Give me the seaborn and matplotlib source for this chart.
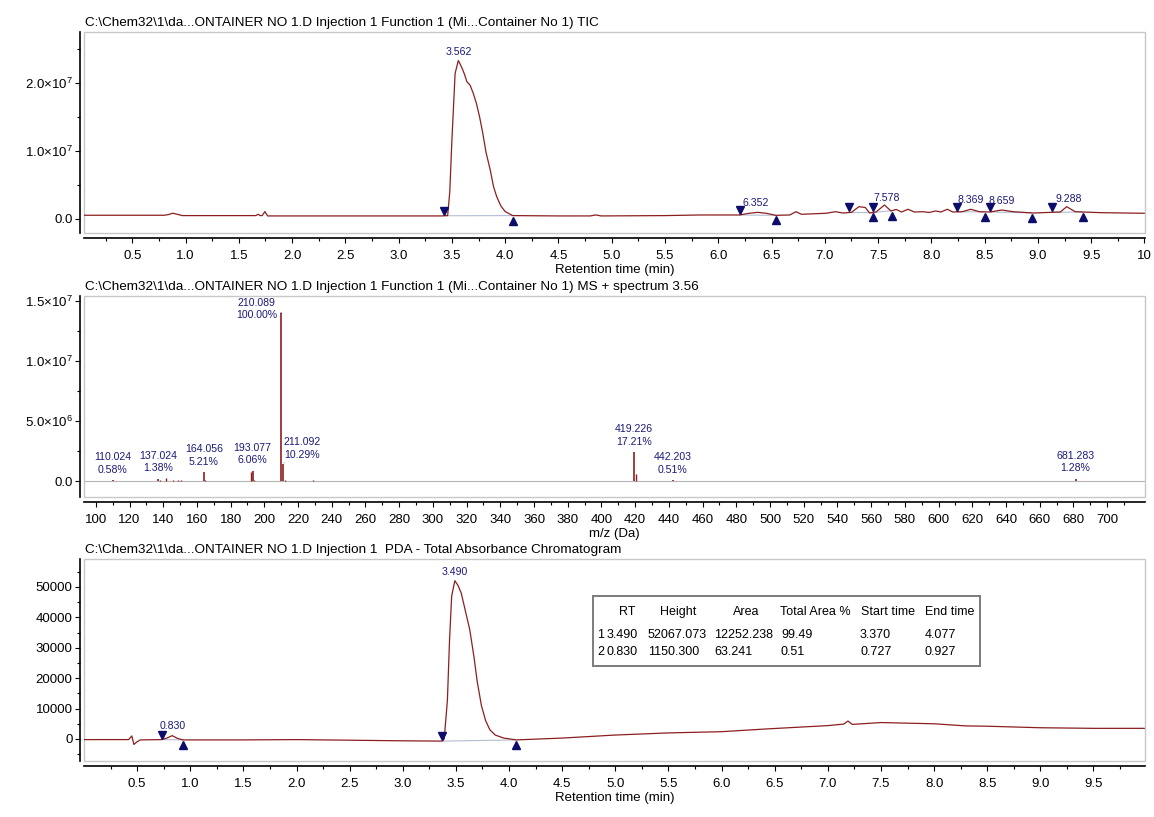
import numpy as np
import pandas as pd
import seaborn as sns
import matplotlib
matplotlib.use("Agg")
import matplotlib.pyplot as plt
from matplotlib.patches import Rectangle
from matplotlib.ticker import FixedLocator, FixedFormatter
import matplotlib.transforms as mtransforms

# ---------------- titles ----------------
tic_title = r"C:\Chem32\1\da...ONTAINER NO 1.D Injection 1 Function 1 (Mi...Container No 1) TIC"
ms_title = r"C:\Chem32\1\da...ONTAINER NO 1.D Injection 1 Function 1 (Mi...Container No 1) MS + spectrum 3.56"
pda_title = r"C:\Chem32\1\da...ONTAINER NO 1.D Injection 1  PDA - Total Absorbance Chromatogram"
rt_xlabel = "Retention time (min)"
mz_xlabel = "m/z (Da)"

# ---------------- TIC chromatogram ----------------
tic_time = [0.05, 0.80, 0.84, 0.88, 0.92, 0.97, 1.62, 1.66, 1.68, 1.70, 1.72, 1.745, 1.77,
            2.00, 2.50, 3.00, 3.40, 3.46, 3.48, 3.50, 3.53, 3.56, 3.58, 3.60, 3.62, 3.64,
            3.67, 3.70, 3.73, 3.76, 3.79, 3.82, 3.86, 3.89, 3.92, 3.96, 4.00, 4.07, 4.50,
            4.80, 4.85, 4.90, 5.50, 5.83, 6.20, 6.29, 6.37, 6.45, 6.54, 6.67, 6.73, 6.78,
            7.01, 7.10, 7.17, 7.25, 7.32, 7.38, 7.42, 7.48, 7.56, 7.62, 7.67, 7.72, 7.78,
            7.84, 7.92, 7.98, 8.04, 8.09, 8.15, 8.20, 8.29, 8.37, 8.45, 8.55, 8.66, 8.77,
            8.96, 9.21, 9.27, 9.35, 9.59, 10.0]
tic_int = [5.5e5, 5.5e5, 6.5e5, 8.5e5, 7.0e5, 5.0e5, 5.0e5, 5.0e5, 7.0e5, 5.0e5, 5.0e5, 1.1e6, 4.5e5,
           4.5e5, 4.5e5, 4.5e5, 4.5e5, 5.0e5, 4.0e6, 1.16e7, 2.14e7, 2.33e7, 2.27e7, 2.20e7, 2.12e7, 2.02e7,
           1.97e7, 1.85e7, 1.70e7, 1.50e7, 1.26e7, 9.8e6, 7.2e6, 4.8e6, 3.3e6, 1.9e6, 1.1e6, 5.0e5, 4.5e5,
           4.5e5, 6.0e5, 4.5e5, 5.0e5, 5.9e5, 5.9e5, 8.4e5, 9.8e5, 8.4e5, 5.4e5, 5.9e5, 1.07e6, 6.9e5,
           8.4e5, 1.07e6, 8.8e5, 9.8e5, 1.81e6, 1.69e6, 8.8e5, 1.03e6, 2.06e6, 1.18e6, 1.40e6, 1.03e6, 1.43e6,
           1.03e6, 1.07e6, 9.6e5, 1.18e6, 1.03e6, 1.43e6, 1.03e6, 1.07e6, 1.43e6, 1.07e6, 1.03e6, 1.32e6, 1.07e6,
           8.8e5, 1.03e6, 1.81e6, 1.07e6, 9.3e5, 8.4e5]
tic_peak_labels = [3.562, 6.352, 7.578, 8.369, 8.659, 9.288]
tic_peak_start = [3.43, 6.20, 7.23, 7.45, 8.24, 8.55, 9.13]
tic_peak_end = [4.07, 6.54, 7.45, 7.63, 8.50, 8.94, 9.42]
tic_yticks = [0, 1.0e7, 2.0e7]
tic_yticklabels = ["0.0", "1.0×10$^{7}$", "2.0×10$^{7}$"]
tic_yminor = [0.5e7, 1.5e7, 2.5e7]
rt_top_ticks = [0.5, 1.0, 1.5, 2.0, 2.5, 3.0, 3.5, 4.0, 4.5, 5.0, 5.5, 6.0, 6.5, 7.0, 7.5,
                8.0, 8.5, 9.0, 9.5, 10.0]
rt_top_labels = ["0.5", "1.0", "1.5", "2.0", "2.5", "3.0", "3.5", "4.0", "4.5", "5.0", "5.5",
                 "6.0", "6.5", "7.0", "7.5", "8.0", "8.5", "9.0", "9.5", "10"]
rt_top_minor = [0.25, 0.75, 1.25, 1.75, 2.25, 2.75, 3.25, 3.75, 4.25, 4.75, 5.25, 5.75, 6.25,
                6.75, 7.25, 7.75, 8.25, 8.75, 9.25, 9.75]

# ---------------- MS spectrum ----------------
ms_base_peak = 1.40e7
ms_peak_mz = [110.024, 137.024, 164.056, 193.077, 210.089, 211.092, 419.226, 442.203, 681.283]
ms_peak_pct = [0.58, 1.38, 5.21, 6.06, 100.00, 10.29, 17.21, 0.51, 1.28]
ms_minor_mz = [104.0, 118.1, 121.0, 128.1, 132.0, 138.0, 141.8, 146.0, 149.0, 150.8, 153.0,
               165.06, 175.0, 183.0, 191.9, 194.08, 212.1, 226.0, 229.0, 232.1, 420.23,
               443.2, 458.0, 471.0, 500.0, 653.0, 665.0, 699.0]
ms_minor_int = [3e4, 2e4, 3e4, 3e4, 4e4, 6e4, 2.4e5, 5e4, 1e5, 8e4, 4e4,
                8e4, 3e4, 3e4, 7.4e5, 1.2e5, 1.2e5, 4e4, 6e4, 3e4, 5.5e5,
                3e4, 2e4, 3e4, 1e4, 2e4, 2e4, 2e4]
ms_yticks = [0, 5.0e6, 1.0e7, 1.5e7]
ms_yticklabels = ["0.0", "5.0×10$^{6}$", "1.0×10$^{7}$", "1.5×10$^{7}$"]
ms_yminor = [2.5e6, 7.5e6, 1.25e7]
mz_ticks = [100, 120, 140, 160, 180, 200, 220, 240, 260, 280, 300, 320, 340, 360, 380, 400,
            420, 440, 460, 480, 500, 520, 540, 560, 580, 600, 620, 640, 660, 680, 700]
mz_labels = [str(v) for v in mz_ticks]
mz_minor = [110, 130, 150, 170, 190, 210, 230, 250, 270, 290, 310, 330, 350, 370, 390, 410,
            430, 450, 470, 490, 510, 530, 550, 570, 590, 610, 630, 650, 670, 690, 710]

# ---------------- PDA chromatogram ----------------
pda_time = [0.00, 0.42, 0.45, 0.47, 0.50, 0.53, 0.73, 0.78, 0.83, 0.88, 0.93, 1.50, 2.00, 2.50,
            3.00, 3.37, 3.39, 3.42, 3.44, 3.46, 3.49, 3.52, 3.55, 3.59, 3.63, 3.67, 3.70, 3.74,
            3.78, 3.82, 3.87, 3.95, 4.07, 4.50, 5.00, 5.50, 6.00, 6.42, 7.00, 7.15, 7.19, 7.23,
            7.50, 8.00, 8.30, 8.50, 9.00, 9.50, 9.98]
pda_abs = [-200, -200, 1000, -1800, -900, -300, -200, 300, 1100, 200, -300, -300, -200, -400,
           -600, -700, 0, 12800, 32500, 47000, 52067, 50500, 48000, 42000, 36000, 27000, 19000, 11000,
           6000, 3000, 1300, 300, -300, 300, 1300, 2000, 2400, 3300, 4400, 4900, 5900, 4800,
           5400, 5000, 4300, 4200, 3700, 3500, 3500]
pda_peak_labels = [0.830, 3.490]
pda_peak_start = [0.73, 3.37]
pda_peak_end = [0.93, 4.07]
pda_yticks = [0, 10000, 20000, 30000, 40000, 50000]
pda_yticklabels = ["0", "10000", "20000", "30000", "40000", "50000"]
pda_yminor = [-5000, 5000, 15000, 25000, 35000, 45000, 55000]
rt_bot_ticks = [0.5, 1.0, 1.5, 2.0, 2.5, 3.0, 3.5, 4.0, 4.5, 5.0, 5.5, 6.0, 6.5, 7.0, 7.5,
                8.0, 8.5, 9.0, 9.5]
rt_bot_labels = ["0.5", "1.0", "1.5", "2.0", "2.5", "3.0", "3.5", "4.0", "4.5", "5.0", "5.5",
                 "6.0", "6.5", "7.0", "7.5", "8.0", "8.5", "9.0", "9.5"]
rt_bot_minor = [0.25, 0.75, 1.25, 1.75, 2.25, 2.75, 3.25, 3.75, 4.25, 4.75, 5.25, 5.75, 6.25,
                6.75, 7.25, 7.75, 8.25, 8.75, 9.25, 9.75]

# peak table
tbl_header = ["RT", "Height", "Area", "Total Area %", "Start time", "End time"]
tbl_rt = [3.490, 0.830]
tbl_height = [52067.073, 1150.300]
tbl_area = [12252.238, 63.241]
tbl_pct = [99.49, 0.51]
tbl_start = [3.370, 0.727]
tbl_end = [4.077, 0.927]

# ---------------- style ----------------
sns.set_theme(style="ticks")
plt.rcParams["font.family"] = ["Liberation Sans", "DejaVu Sans"]
plt.rcParams["mathtext.default"] = "regular"

TRACE = "#8b1f1f"
NAVY = "#1a1a78"
MARK = "#0c0c6a"
BOX = "#c8c8c8"
BASEL = "#b4bcd4"

fig = plt.figure(figsize=(11.54, 8.17), dpi=100)
W, H = 1154, 817


def rect(top_px, bot_px, left_px=84, right_px=1145):
    return [left_px / W, (H - bot_px) / H, (right_px - left_px) / W, (bot_px - top_px) / H]


ax1 = fig.add_axes(rect(32, 233))
ax2 = fig.add_axes(rect(296, 497))
ax3 = fig.add_axes(rect(559, 761))


def style_axis(ax, title, xlabel):
    for s in ["top", "right"]:
        ax.spines[s].set_visible(False)
    ax.spines["left"].set_position(("outward", 3.0))
    ax.spines["bottom"].set_position(("outward", 3.6))
    for s in ["left", "bottom"]:
        ax.spines[s].set_linewidth(1.2)
        ax.spines[s].set_color("black")
    ax.add_patch(Rectangle((0, 0), 1, 1, transform=ax.transAxes, fill=False,
                           ec=BOX, lw=1.0, clip_on=False, zorder=0.5))
    ax.tick_params(which="major", direction="out", length=3.8, width=0.8, color="black",
                   labelsize=9.5, labelcolor="black")
    ax.tick_params(which="minor", direction="out", length=2.2, width=0.8, color="black")
    ax.tick_params(axis="x", which="both", pad=5.0)
    ax.tick_params(axis="y", which="both", pad=1.5)
    ax.set_facecolor("white")
    ax.grid(False)
    ax.set_xlabel(xlabel, fontsize=9.5, labelpad=1.0, color="black")
    ax.set_ylabel("")
    ax.annotate(title, xy=(0, 1), xycoords="axes fraction", xytext=(1, 2.5),
                textcoords="offset points", ha="left", va="bottom", fontsize=9.7,
                color="black")


def set_ticks(ax, xt, xl, xminor, yt, yl, yminor):
    ax.xaxis.set_major_locator(FixedLocator(xt))
    ax.xaxis.set_major_formatter(FixedFormatter(xl))
    ax.xaxis.set_minor_locator(FixedLocator(xminor))
    ax.yaxis.set_major_locator(FixedLocator(yt))
    ax.yaxis.set_major_formatter(FixedFormatter(yl))
    ax.yaxis.set_minor_locator(FixedLocator(yminor))


def chromatogram(ax, t, v, labels, starts, ends):
    sns.lineplot(x=t, y=v, ax=ax, color=TRACE, lw=0.9, zorder=3)
    up = mtransforms.offset_copy(ax.transData, fig=fig, x=0, y=3.6, units="points")
    dn = mtransforms.offset_copy(ax.transData, fig=fig, x=0, y=-3.6, units="points")
    hs = np.interp(starts, t, v)
    he = np.interp(ends, t, v)
    for s, e, a, b in zip(starts, ends, hs, he):
        ax.plot([s, e], [a, b], color=BASEL, lw=0.8, zorder=2)
    ax.plot(starts, hs, ls="none", marker="v", ms=6, color=MARK, transform=up, zorder=4)
    ax.plot(ends, he, ls="none", marker="^", ms=6, color=MARK, transform=dn, zorder=4)
    hl = np.interp(labels, t, v)
    for x, h in zip(labels, hl):
        ax.annotate(f"{x:.3f}", xy=(x, h), xytext=(0, 3.0), textcoords="offset points",
                    ha="center", va="bottom", fontsize=7.6, color=NAVY)


# ---- TIC ----
chromatogram(ax1, tic_time, tic_int, tic_peak_labels, tic_peak_start, tic_peak_end)
ax1.set_xlim(0.047, 10.005)
ax1.set_ylim(-2.06e6, 2.75e7)
set_ticks(ax1, rt_top_ticks, rt_top_labels, rt_top_minor, tic_yticks, tic_yticklabels, tic_yminor)
style_axis(ax1, tic_title, rt_xlabel)

# ---- MS ----
ms_peak_int = [p / 100.0 * ms_base_peak for p in ms_peak_pct]
ax2.axhline(0, color="#b5b5b5", lw=0.8, zorder=1)
ax2.vlines(ms_minor_mz, 0, ms_minor_int, color=TRACE, lw=1.0, zorder=3)
ax2.vlines(ms_peak_mz, 0, ms_peak_int, color=TRACE, lw=1.2, zorder=3)
label_offsets = {210.089: (-17.7, -5.0), 211.092: (13.5, 3.0)}
for mz, pct, h in zip(ms_peak_mz, ms_peak_pct, ms_peak_int):
    off = label_offsets.get(mz, (0, 4.0))
    arrow = None
    if mz in label_offsets:
        arrow = dict(arrowstyle="-", color=NAVY, lw=0.6, shrinkA=0, shrinkB=1)
    ax2.annotate(f"{mz:.3f}\n{pct:.2f}%", xy=(mz, h), xytext=off, textcoords="offset points",
                 ha="center", va="bottom", fontsize=7.6, color=NAVY, linespacing=1.3,
                 multialignment="center", arrowprops=arrow)
ax2.set_xlim(93.0, 722.5)
ax2.set_ylim(-1.33e6, 1.542e7)
set_ticks(ax2, mz_ticks, mz_labels, mz_minor, ms_yticks, ms_yticklabels, ms_yminor)
style_axis(ax2, ms_title, mz_xlabel)

# ---- PDA ----
chromatogram(ax3, pda_time, pda_abs, pda_peak_labels, pda_peak_start, pda_peak_end)
ax3.set_xlim(0.0, 9.985)
ax3.set_ylim(-7240, 59200)
set_ticks(ax3, rt_bot_ticks, rt_bot_labels, rt_bot_minor, pda_yticks, pda_yticklabels, pda_yminor)
style_axis(ax3, pda_title, rt_xlabel)

# peak table
tx0, tx1, ty0, ty1 = 0.4797, 0.8445, 0.470, 0.8168
ax3.add_patch(Rectangle((tx0, ty0), tx1 - tx0, ty1 - ty0, transform=ax3.transAxes,
                        fill=True, fc="white", ec="#7c7c7c", lw=1.4, zorder=5))
hdr_x = [0.5115, 0.5601, 0.6237, 0.656, 0.7323, 0.7926]
hdr_ha = ["center", "center", "center", "left", "left", "left"]
for txt, x, ha in zip(tbl_header, hdr_x, hdr_ha):
    ax3.text(x, 0.739, txt, transform=ax3.transAxes, ha=ha, va="center", fontsize=9,
             color="black", zorder=6)
col_x = [0.4835, 0.4927, 0.5313, 0.5941, 0.6569, 0.7314, 0.7920]
row_y = [0.624, 0.541]
for i in range(len(tbl_rt)):
    cells = [str(i + 1), f"{tbl_rt[i]:.3f}", f"{tbl_height[i]:.3f}", f"{tbl_area[i]:.3f}",
             f"{tbl_pct[i]:.2f}", f"{tbl_start[i]:.3f}", f"{tbl_end[i]:.3f}"]
    for txt, x in zip(cells, col_x):
        ax3.text(x, row_y[i], txt, transform=ax3.transAxes, ha="left", va="center",
                 fontsize=9, color="black", zorder=6)

fig.savefig("out.png", dpi=100, facecolor="white")
